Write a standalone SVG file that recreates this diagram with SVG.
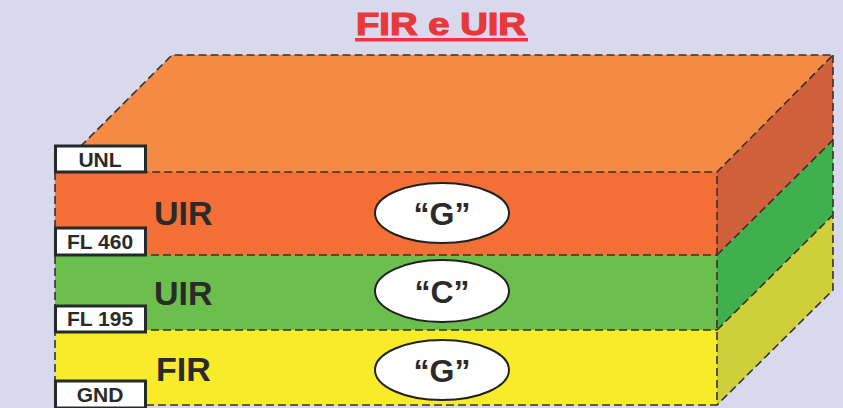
<svg xmlns="http://www.w3.org/2000/svg" width="843" height="408" viewBox="0 0 843 408">
<style>
.edge{fill:none;stroke:#3a3030;stroke-width:1.6;stroke-dasharray:8 4}
.lbl{fill:#fff;stroke:#222a2a;stroke-width:3}
.lt{font-family:"Liberation Sans",Arial,sans-serif;font-weight:bold;font-size:21px;fill:#2a2a2a;text-anchor:middle}
.big{font-family:"Liberation Sans",Arial,sans-serif;font-weight:bold;font-size:34px;fill:#2a2a2a}
.ell{fill:#fff;stroke:#222;stroke-width:2}
.et{font-family:"Liberation Sans",Arial,sans-serif;font-weight:bold;font-size:32px;fill:#2a2a2a;text-anchor:middle}
</style>
<rect x="0" y="0" width="843" height="408" fill="#d8d9ec"/>
<text x="441" y="35" font-family="Liberation Sans,Arial,sans-serif" font-weight="bold" font-size="31" fill="#e8383a" stroke="#e8383a" stroke-width="1.2" text-anchor="middle" textLength="170" lengthAdjust="spacingAndGlyphs">FIR e UIR</text>
<rect x="355" y="38" width="173" height="3.5" fill="#e8383a"/>
<g id="top-face">
<polygon points="55,172 172,55 833,55 717,172" fill="#f58a45"/>
</g>
<g id="layer-uir-upper">
<rect x="55" y="172" width="662" height="83" fill="#f36f36"/>
<polygon points="717,172 833,55 833,140 717,255" fill="#d0603a"/>
</g>
<g id="layer-uir-lower">
<rect x="55" y="255" width="662" height="75" fill="#6cbf4c"/>
<polygon points="717,255 833,140 833,215 717,330" fill="#40b04d"/>
</g>
<g id="layer-fir">
<rect x="55" y="330" width="662" height="75" fill="#f8eb2a"/>
<polygon points="717,330 833,215 833,290 717,405" fill="#cfcf3a"/>
</g>
<g id="connectors">
<path class="edge" d="M55,172 L172,55 L833,55 L717,172 Z"/>
<path class="edge" d="M55,172 V405 H717 V172"/>
<path class="edge" d="M55,255 H717 M55,330 H717"/>
<path class="edge" d="M833,55 V290 L717,405"/>
<path class="edge" d="M717,255 L833,140 M717,330 L833,215"/>
</g>
<g id="label-unl"><rect class="lbl" x="55.5" y="146" width="90" height="26"/><text class="lt" x="100" y="167">UNL</text></g>
<g id="label-fl460"><rect class="lbl" x="55.5" y="228" width="90" height="27"/><text class="lt" x="100" y="249">FL 460</text></g>
<g id="label-fl195"><rect class="lbl" x="55.5" y="306" width="90" height="26"/><text class="lt" x="100" y="326">FL 195</text></g>
<g id="label-gnd"><rect class="lbl" x="55.5" y="381" width="90" height="27"/><text class="lt" x="100" y="402">GND</text></g>
<g id="name-uir1"><text class="big" x="154" y="225">UIR</text></g>
<g id="name-uir2"><text class="big" x="154" y="305">UIR</text></g>
<g id="name-fir"><text class="big" x="156" y="381">FIR</text></g>
<g id="class-g1"><ellipse class="ell" cx="442" cy="213" rx="67" ry="30"/><text class="et" x="442" y="225">“G”</text></g>
<g id="class-c"><ellipse class="ell" cx="442" cy="291" rx="67" ry="31"/><text class="et" x="442" y="303">“C”</text></g>
<g id="class-g2"><ellipse class="ell" cx="442" cy="370" rx="67" ry="30"/><text class="et" x="442" y="382">“G”</text></g>
</svg>
